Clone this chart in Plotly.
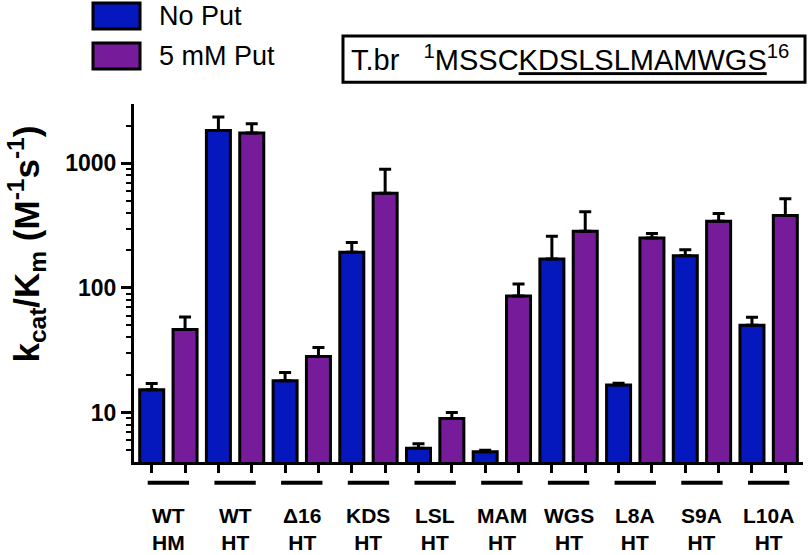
import plotly.graph_objects as go
import math

# ---- data ----
groups = ["WT<br>HM", "WT<br>HT", "Δ16<br>HT", "KDS<br>HT", "LSL<br>HT",
          "MAM<br>HT", "WGS<br>HT", "L8A<br>HT", "S9A<br>HT", "L10A<br>HT"]
no_put = [15.2, 1836, 18.0, 193, 5.15, 4.84, 170.6, 16.65, 181.5, 50.2]
no_put_err = [1.9, 520, 2.9, 39, 0.46, 0.13, 89, 0.5, 21, 8]
put5 = [46.4, 1758, 28.2, 575, 8.94, 86.1, 285, 252, 343.6, 382]
put5_err = [12, 320, 5, 324, 1.06, 21.5, 124, 22, 53, 139]
series_names = ["No Put", "5 mM Put"]
y_ticks = [10, 100, 1000]
y_minor = [5, 6, 7, 8, 9, 20, 30, 40, 50, 60, 70, 80, 90,
           200, 300, 400, 500, 600, 700, 800, 900, 2000]

BLUE = "#0418BE"
PURPLE = "#761C9A"
FONT = "Liberation Sans, Arial, sans-serif"

n = len(groups)
x_blue = [2 * i for i in range(n)]
x_purple = [2 * i + 1 for i in range(n)]

fig = go.Figure()
for xs, ys, errs, col, name in [(x_blue, no_put, no_put_err, BLUE, series_names[0]),
                                (x_purple, put5, put5_err, PURPLE, series_names[1])]:
    fig.add_trace(go.Bar(
        x=xs, y=ys, name=name, width=0.72,
        marker=dict(color=col, line=dict(color="black", width=3)),
        error_y=dict(type="data", symmetric=False, array=errs,
                     arrayminus=[0] * n, color="black", thickness=3, width=6),
        showlegend=False,
    ))

shapes = []
annotations = []
# group underline + labels
for i, g in enumerate(groups):
    c = 2 * i + 0.5
    shapes.append(dict(type="line", xref="x", yref="paper", x0=c - 0.62, x1=c + 0.62,
                       y0=-0.058, y1=-0.058, line=dict(color="black", width=4)))
    annotations.append(dict(x=c, y=-0.111, xref="x", yref="paper", text="<b>" + g + "</b>",
                            showarrow=False, yanchor="top", xanchor="center",
                            font=dict(family=FONT, size=21, color="black")))

# legend (manual)
for k, (name, col) in enumerate(zip(series_names, [BLUE, PURPLE])):
    y0 = 1.2095 - k * 0.1115
    y1 = 1.282 - k * 0.1115
    shapes.append(dict(type="rect", xref="paper", yref="paper", x0=-0.0613, x1=0.009,
                       y0=y0, y1=y1, fillcolor=col, line=dict(color="black", width=3)))
    annotations.append(dict(x=0.034, y=(y0 + y1) / 2, xref="paper", yref="paper",
                            text=name, showarrow=False, xanchor="left", yanchor="middle",
                            font=dict(family=FONT, size=27, color="black")))

# sequence box
shapes.append(dict(type="rect", xref="paper", yref="paper", x0=0.3124, x1=1.003,
                   y0=1.061, y1=1.19, line=dict(color="black", width=3)))
annotations.append(dict(x=0.322, y=1.128, xref="paper", yref="paper",
                        text="T.br\u00a0\u00a0\u00a0<sup>1</sup>MSSC<u>KDSLSLMAMWGS</u><sup>16</sup>",
                        showarrow=False, xanchor="left", yanchor="middle",
                        font=dict(family=FONT, size=29, color="black")))

# y title
annotations.append(dict(x=-0.16, y=0.61, xref="paper", yref="paper",
                        text="<b>k<sub>cat</sub>/K<sub>m</sub> (M<sup>-1</sup>s<sup>-1</sup>)</b>",
                        textangle=-90, showarrow=False, xanchor="center", yanchor="middle",
                        font=dict(family=FONT, size=35, color="black")))

fig.update_layout(
    width=810, height=555,
    margin=dict(l=134, r=7, t=104, b=93),
    paper_bgcolor="white", plot_bgcolor="white",
    barmode="overlay",
    shapes=shapes, annotations=annotations,
    font=dict(family=FONT, color="black"),
)
fig.update_xaxes(range=[-0.531, 19.53], tickmode="array", tickvals=x_blue + x_purple,
                 showticklabels=False, ticks="outside", ticklen=8, tickwidth=3,
                 tickcolor="black", showline=True, linecolor="black", linewidth=3,
                 showgrid=False, zeroline=False)
fig.update_yaxes(type="log", range=[math.log10(4), math.log10(3000)],
                 tickmode="array", tickvals=y_ticks, ticktext=[f"<b>{v}</b>" for v in y_ticks],
                 ticks="outside", ticklen=10, tickwidth=3, tickcolor="black",
                 tickfont=dict(family=FONT, size=23, color="black"),
                 minor=dict(tickmode="array", tickvals=y_minor, ticks="outside",
                            ticklen=5, tickwidth=2, tickcolor="black", showgrid=False),
                 showline=True, linecolor="black", linewidth=3,
                 showgrid=False, zeroline=False)

fig.write_html("out.html", config={"displayModeBar": False},
               post_script="document.body.style.margin='0px';document.body.style.overflow='hidden';")
